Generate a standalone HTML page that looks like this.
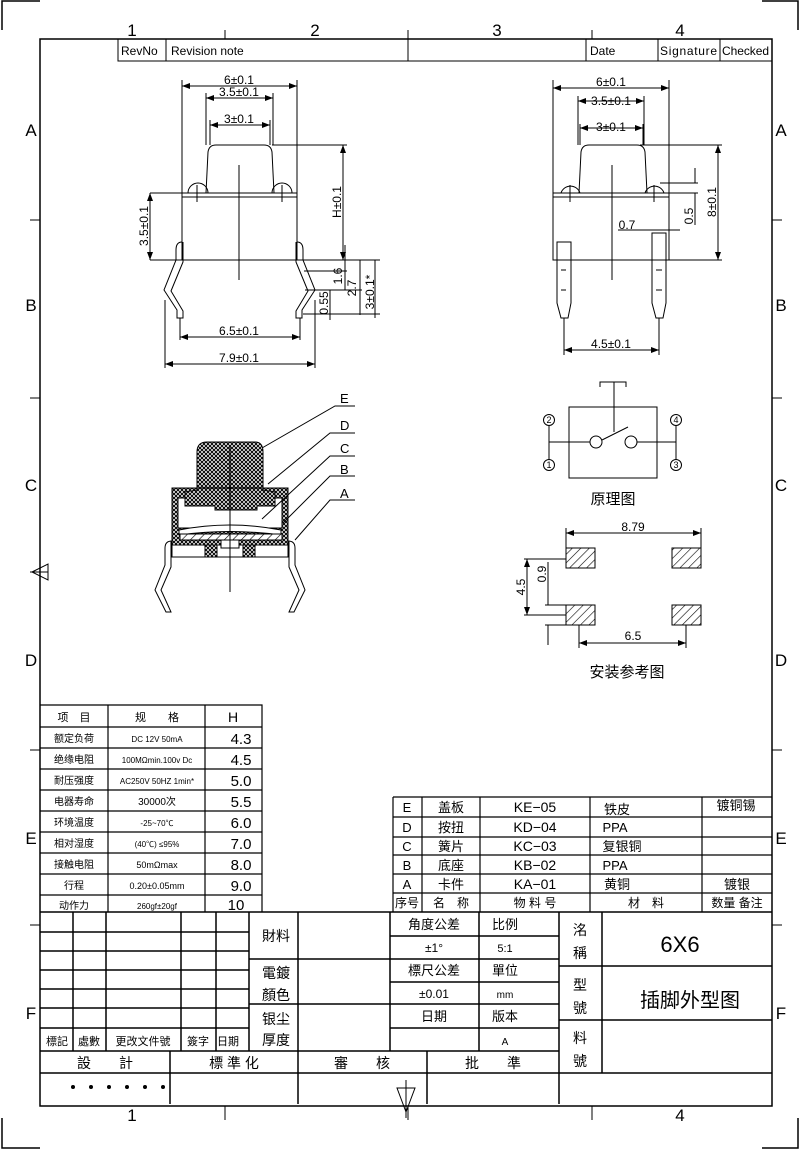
<!DOCTYPE html>
<html><head><meta charset="utf-8"><style>
html,body{margin:0;padding:0;background:#fff}
svg{display:block}
text{font-family:"Liberation Sans","Noto Sans CJK SC",sans-serif;fill:#000}
.s{font-family:"Liberation Serif","Noto Serif CJK SC",serif}
</style></head><body>
<svg width="800" height="1149" viewBox="0 0 800 1149" xmlns="http://www.w3.org/2000/svg">
<defs>
<pattern id="x" width="4" height="4" patternUnits="userSpaceOnUse">
<rect width="4" height="4" fill="#fff"/><path d="M0 0L4 4M4 0L0 4" stroke="#000" stroke-width="1"/></pattern>
<pattern id="h" width="6" height="6" patternUnits="userSpaceOnUse" patternTransform="rotate(45)">
<rect width="6" height="6" fill="#fff"/><line x1="0" y1="0" x2="0" y2="6" stroke="#000" stroke-width="1.2"/></pattern>
<marker id="a" markerWidth="8" markerHeight="6" refX="8" refY="3" orient="auto-start-reverse"><path d="M0 0L8 3L0 6" fill="#000"/></marker>
</defs>
<g fill="none" stroke="#000" stroke-width="1">
<!-- corners -->
<path d="M2 30V1H40M762 1H798V30M2 1118V1148H40M762 1148H798V1118" stroke-width="1.5"/>
<rect x="40" y="39" width="732" height="1067" stroke-width="1.5"/>
<path d="M225 30V39M408 30V39M592 30V39M225 1106V1120M408 1106V1120M592 1106V1120"/>
<path d="M30 220H40M30 398H40M30 750H40M30 925H40M772 220H782M772 398H782M772 750H782M772 925H782"/>
<path d="M32 572L48 564V580Z M30 572H48"/>
<path d="M397 1088H415L406 1112Z M406 1080V1118"/>
<!-- revision header -->
<path d="M118 39V61H772M166 39V61M408 39V61M586 39V61M658 39V61M720 39V61"/>
</g>
<g font-size="17" text-anchor="middle">
<text x="132" y="36">1</text><text x="315" y="36">2</text><text x="497" y="36">3</text><text x="680" y="36">4</text>
<text x="132" y="1121">1</text><text x="680" y="1121">4</text>
<text x="31" y="136">A</text><text x="31" y="311">B</text><text x="31" y="491">C</text><text x="31" y="666">D</text><text x="31" y="844">E</text><text x="31" y="1019">F</text>
<text x="781" y="136">A</text><text x="781" y="311">B</text><text x="781" y="491">C</text><text x="781" y="666">D</text><text x="781" y="844">E</text><text x="781" y="1019">F</text>
</g>
<g font-size="12">
<text x="121" y="55">RevNo</text><text x="171" y="55">Revision note</text><text x="590" y="55">Date</text><text x="660" y="55" textLength="57">Signature</text><text x="722" y="55" textLength="47">Checked</text>
</g>

<!-- LEFT TOP VIEW -->
<g fill="none" stroke="#000" stroke-width="1">
<rect x="182" y="193" width="115" height="67"/><line x1="182" y1="197" x2="297" y2="197"/>
<path d="M206 193L208 152Q209 145 216 145H264Q271 145 272 152L274 193"/>
<path d="M188 193A10 10 0 0 1 208 193M272 193A10 10 0 0 1 292 193"/>
<path d="M197 185V202M282 185V202"/>
<path d="M239 165V280"/>
<path d="M182 242Q176 242 176 250V260L164 290L177 310V318H183V311L171 291L183 262V242"/>
<path d="M297 242Q303 242 303 250V260L315 290L302 310V318H296V311L308 291L296 262V242"/>
<!-- dims -->
<path d="M182 193V80M297 193V80M206 145V93M273 145V93M210 145V120M270 145V120"/>
<line x1="182" y1="86" x2="297" y2="86" marker-start="url(#a)" marker-end="url(#a)"/>
<line x1="206" y1="98" x2="273" y2="98" marker-start="url(#a)" marker-end="url(#a)"/>
<line x1="210" y1="125" x2="270" y2="125" marker-start="url(#a)" marker-end="url(#a)"/>
<path d="M150 193H182M150 260H182"/>
<line x1="150" y1="193" x2="150" y2="260" marker-start="url(#a)" marker-end="url(#a)"/>
<path d="M272 145H347M297 260H380"/>
<line x1="343" y1="145" x2="343" y2="260" marker-start="url(#a)" marker-end="url(#a)"/>
<path d="M304 271H347M305 290H362M303 314H380M345 245V290M330 290V320M360 260V315M375 260V318"/>
<path d="M180 318V340M300 318V340M165 300V368M315 300V368"/>
<line x1="180" y1="337" x2="300" y2="337" marker-start="url(#a)" marker-end="url(#a)"/>
<line x1="165" y1="364" x2="315" y2="364" marker-start="url(#a)" marker-end="url(#a)"/>
</g>
<g font-size="12" text-anchor="middle">
<text x="239" y="84">6±0.1</text><text x="239" y="96">3.5±0.1</text><text x="239" y="123">3±0.1</text>
<text x="239" y="335">6.5±0.1</text><text x="239" y="362">7.9±0.1</text>
<text transform="translate(148 226) rotate(-90)">3.5±0.1</text>
<text transform="translate(341 202) rotate(-90)">H±0.1</text>
<text transform="translate(342 276) rotate(-90)">1.6</text>
<text transform="translate(356 288) rotate(-90)">2.7</text>
<text transform="translate(374 292) rotate(-90)">3±0.1*</text>
<text transform="translate(328 303) rotate(-90)">0.55</text>
</g>

<!-- RIGHT SIDE VIEW -->
<g fill="none" stroke="#000" stroke-width="1">
<rect x="553" y="193" width="116" height="67"/><line x1="553" y1="197" x2="669" y2="197"/>
<path d="M579 193L581 152Q582 145 589 145H637Q644 145 645 152L647 193"/>
<path d="M561 193A10 10 0 0 1 580 193M645 193A10 10 0 0 1 664 193"/>
<path d="M570 185V202M654 185V202M612 165V280"/>
<path d="M557 242H571V303L568 318H561L557 303Z M561 270H566M561 290H566"/>
<path d="M652 233H666V303L663 318H656L652 303Z M656 270H662M656 290H662"/>
<path d="M553 193V80M669 193V80M578 145V96M644 145V96M580 145V124M643 145V124"/>
<line x1="553" y1="88" x2="669" y2="88" marker-start="url(#a)" marker-end="url(#a)"/>
<line x1="578" y1="101" x2="644" y2="101" marker-start="url(#a)" marker-end="url(#a)"/>
<line x1="580" y1="128" x2="643" y2="128" marker-start="url(#a)" marker-end="url(#a)"/>
<path d="M640 145H722M669 260H722M660 183H698M669 193H698M695 168V183M695 193V225"/>
<line x1="718" y1="145" x2="718" y2="260" marker-start="url(#a)" marker-end="url(#a)"/>
<path d="M618 230H680"/>
<path d="M564 318V355M659 318V355"/>
<line x1="564" y1="350" x2="659" y2="350" marker-start="url(#a)" marker-end="url(#a)"/>
</g>
<g font-size="12" text-anchor="middle">
<text x="611" y="86">6±0.1</text><text x="611" y="105">3.5±0.1</text><text x="611" y="131">3±0.1</text>
<text x="627" y="229">0.7</text><text x="611" y="348">4.5±0.1</text>
<text transform="translate(693 216) rotate(-90)">0.5</text>
<text transform="translate(716 202) rotate(-90)">8±0.1</text>
</g>

<!-- CROSS SECTION -->
<g stroke="#000" stroke-width="1">
<path d="M172 488H288V557H172Z" fill="url(#x)"/>
<rect x="178" y="498" width="104" height="30" fill="#fff"/>
<path d="M197 490V452Q197 442 207 442H255Q263 442 263 452V490L275 492V506H257V510H215V506H185V492L197 490Z" fill="url(#x)"/>
<path d="M179 530Q230 520 281 530L281 535Q230 528 179 535Z" fill="#fff"/>
<path d="M180 534H282V540H180Z" fill="url(#h)"/>
<rect x="172" y="545" width="116" height="12" fill="#fff"/>
<rect x="205" y="545" width="12" height="12" fill="url(#x)"/><rect x="243" y="545" width="12" height="12" fill="url(#x)"/>
<rect x="221" y="540" width="18" height="8" fill="#fff"/>
</g>
<g fill="none" stroke="#000" stroke-width="1">
<path d="M172 488H288"/>
<path d="M230 445V592"/>
<path d="M172 541Q165 541 165 548V565L155 590L166 612H171L161 590L171 567V541"/>
<path d="M288 541Q295 541 295 548V565L305 590L294 612H289L299 590L289 567V541"/>
<path d="M262 448L335 406H355M268 484L330 433H355M262 519L330 456H355M283 523L330 476H355M295 540L330 500H355"/>
</g>
<g font-size="13"><text x="340" y="403">E</text><text x="340" y="430">D</text><text x="340" y="453">C</text><text x="340" y="474">B</text><text x="340" y="498">A</text></g>

<!-- SCHEMATIC -->
<g fill="none" stroke="#000" stroke-width="1">
<rect x="569" y="407" width="88" height="71"/>
<path d="M600 387V382H626V387M614 382V432"/>
<path d="M549 425V460M549 442H590M637 442H676M676 425V460"/>
<circle cx="596" cy="442" r="6" fill="#fff"/><circle cx="631" cy="442" r="6" fill="#fff"/>
<path d="M602 440L628 427"/>
<circle cx="549" cy="420" r="5.5"/><circle cx="549" cy="465" r="5.5"/><circle cx="676" cy="420" r="5.5"/><circle cx="676" cy="465" r="5.5"/>
</g>
<g font-size="9" text-anchor="middle"><text x="549" y="423">2</text><text x="549" y="468">1</text><text x="676" y="423">4</text><text x="676" y="468">3</text></g>
<text x="613" y="504" font-size="15" text-anchor="middle">原理图</text>

<!-- MOUNT -->
<g stroke="#000" stroke-width="1">
<rect x="566" y="548" width="29" height="20" fill="url(#h)"/><rect x="672" y="548" width="29" height="20" fill="url(#h)"/>
<rect x="566" y="605" width="29" height="20" fill="url(#h)"/><rect x="672" y="605" width="29" height="20" fill="url(#h)"/>
</g>
<g fill="none" stroke="#000" stroke-width="1">
<path d="M566 548V528M701 548V528"/>
<line x1="566" y1="533" x2="701" y2="533" marker-start="url(#a)" marker-end="url(#a)"/>
<path d="M579 625V648M686 625V648"/>
<line x1="579" y1="643" x2="686" y2="643" marker-start="url(#a)" marker-end="url(#a)"/>
<path d="M524 559H566M524 615H566M545 605H566M545 625H566"/>
<line x1="527" y1="559" x2="527" y2="615" marker-start="url(#a)" marker-end="url(#a)"/>
<path d="M548 562V605M548 625V645"/>
</g>
<g font-size="12" text-anchor="middle">
<text x="633" y="531">8.79</text><text x="633" y="640">6.5</text>
<text transform="translate(525 587) rotate(-90)">4.5</text>
<text transform="translate(546 574) rotate(-90)">0.9</text>
</g>
<text x="627" y="677" font-size="15" text-anchor="middle">安装参考图</text>

<!-- SPEC TABLE -->
<g fill="none" stroke="#000" stroke-width="1.2">
<path d="M40 705H262V912M108 705V912M205 705V912"/>
<path d="M40 727H262M40 748H262M40 769H262M40 790H262M40 811H262M40 832H262M40 853H262M40 874H262M40 895H262"/>
</g>
<g font-size="11" text-anchor="middle" class="s">
<text x="74" y="721">项　目</text><text x="157" y="721">规　　格</text><text x="233" y="722" font-size="14">H</text>
<g font-size="10">
<text x="74" y="742">额定负荷</text><text x="74" y="763">绝缘电阻</text><text x="74" y="784">耐压强度</text><text x="74" y="805">电器寿命</text><text x="74" y="826">环境温度</text><text x="74" y="847">相对湿度</text><text x="74" y="868">接触电阻</text><text x="74" y="889">行程</text><text x="74" y="909">动作力</text>
<text x="157" y="742" font-size="8">DC 12V 50mA</text><text x="157" y="763" font-size="8">100MΩmin.100v Dc</text><text x="157" y="784" font-size="8">AC250V 50HZ 1min*</text><text x="157" y="805">30000次</text><text x="157" y="826" font-size="8">-25~70℃</text><text x="157" y="847" font-size="8">(40℃) ≤95%</text><text x="157" y="868" font-size="9">50mΩmax</text><text x="157" y="889" font-size="9">0.20±0.05mm</text><text x="157" y="909" font-size="8">260gf±20gf</text>
</g>
<g font-size="15"><text x="241" y="744">4.3</text><text x="241" y="765">4.5</text><text x="241" y="786">5.0</text><text x="241" y="807">5.5</text><text x="241" y="828">6.0</text><text x="241" y="849">7.0</text><text x="241" y="870">8.0</text><text x="241" y="891">9.0</text><text x="236" y="910">10</text></g>
</g>

<!-- PARTS TABLE -->
<g fill="none" stroke="#000" stroke-width="1.2">
<path d="M393 797H772M393 797V912M422 797V912M480 797V912M590 797V912M702 797V912"/>
<path d="M393 817H772M393 837H772M393 855H772M393 874H772M393 893H772"/>
</g>
<g font-size="13" text-anchor="middle">
<text x="407" y="812">E</text><text x="407" y="832">D</text><text x="407" y="851">C</text><text x="407" y="870">B</text><text x="407" y="889">A</text>
<text x="451" y="812">盖板</text><text x="451" y="832">按扭</text><text x="451" y="851">簧片</text><text x="451" y="870">底座</text><text x="451" y="889">卡件</text>
<text x="535" y="812" font-size="14">KE−05</text><text x="535" y="832" font-size="14">KD−04</text><text x="535" y="851" font-size="14">KC−03</text><text x="535" y="870" font-size="14">KB−02</text><text x="535" y="889" font-size="14">KA−01</text>
<text x="617" y="814">铁皮</text><text x="615" y="832">PPA</text><text x="622" y="851">复银铜</text><text x="615" y="870">PPA</text><text x="617" y="889">黄铜</text>
<text x="736" y="810">镀铜锡</text><text x="737" y="889">镀银</text>
<text x="407" y="907" font-size="12">序号</text><text x="451" y="907" font-size="12">名　称</text><text x="535" y="907" font-size="12">物 料 号</text><text x="646" y="907" font-size="12">材　料</text><text x="737" y="907" font-size="12">数量 备注</text>
</g>

<!-- TITLE BLOCK -->
<g fill="none" stroke="#000" stroke-width="1.5">
<path d="M40 912H772M40 1051H559M40 1073H772"/>
<path d="M73 912V1051M106 912V1051M181 912V1051M216 912V1051M249 912V1051M298 912V1104M390 912V1051M479 912V1051M559 912V1104M602 912V1073"/>
<path d="M40 932H249M40 951H249M40 970H249M40 989H249M40 1008H249M40 1028H249"/>
<path d="M249 959H390M249 1004H390M390 936H559M390 959H559M390 982H559M390 1004H559M390 1028H559"/>
<path d="M559 966H772M559 1020H772"/>
<path d="M170 1051V1104M427 1051V1104"/>
</g>
<g font-size="14" text-anchor="middle" class="s">
<text x="276" y="941">財料</text><text x="276" y="978">電鍍</text><text x="276" y="1000">顏色</text><text x="276" y="1024">银尘</text><text x="276" y="1045">厚度</text>
<text x="434" y="929" font-size="13">角度公差</text><text x="505" y="929" font-size="13">比例</text>
<text x="434" y="952" font-size="12">±1°</text><text x="505" y="952" font-size="11">5:1</text>
<text x="434" y="975" font-size="13">標尺公差</text><text x="505" y="975" font-size="13">單位</text>
<text x="434" y="998" font-size="12">±0.01</text><text x="505" y="998" font-size="10">mm</text>
<text x="434" y="1021" font-size="13">日期</text><text x="505" y="1021" font-size="13">版本</text>
<text x="505" y="1045" font-size="10">A</text>
<text x="580" y="935">洺</text><text x="580" y="958">稱</text>
<text x="580" y="990">型</text><text x="580" y="1013">號</text>
<text x="580" y="1043">料</text><text x="580" y="1066">號</text>
<text x="680" y="952" font-size="22">6X6</text>
<text x="690" y="1007" font-size="20">插脚外型图</text>
<g font-size="11"><text x="57" y="1045">標記</text><text x="89" y="1045">處數</text><text x="143" y="1045">更改文件號</text><text x="198" y="1045">簽字</text><text x="228" y="1045">日期</text></g>
<text x="105" y="1068">設　　計</text><text x="234" y="1068">標 準 化</text><text x="362" y="1068">審　　核</text><text x="493" y="1068">批　　準</text>
</g>
<g fill="#000"><circle cx="73" cy="1087" r="2"/><circle cx="91" cy="1087" r="2"/><circle cx="109" cy="1087" r="2"/><circle cx="127" cy="1087" r="2"/><circle cx="145" cy="1087" r="2"/><circle cx="163" cy="1087" r="2"/></g>
</svg>
</body></html>
